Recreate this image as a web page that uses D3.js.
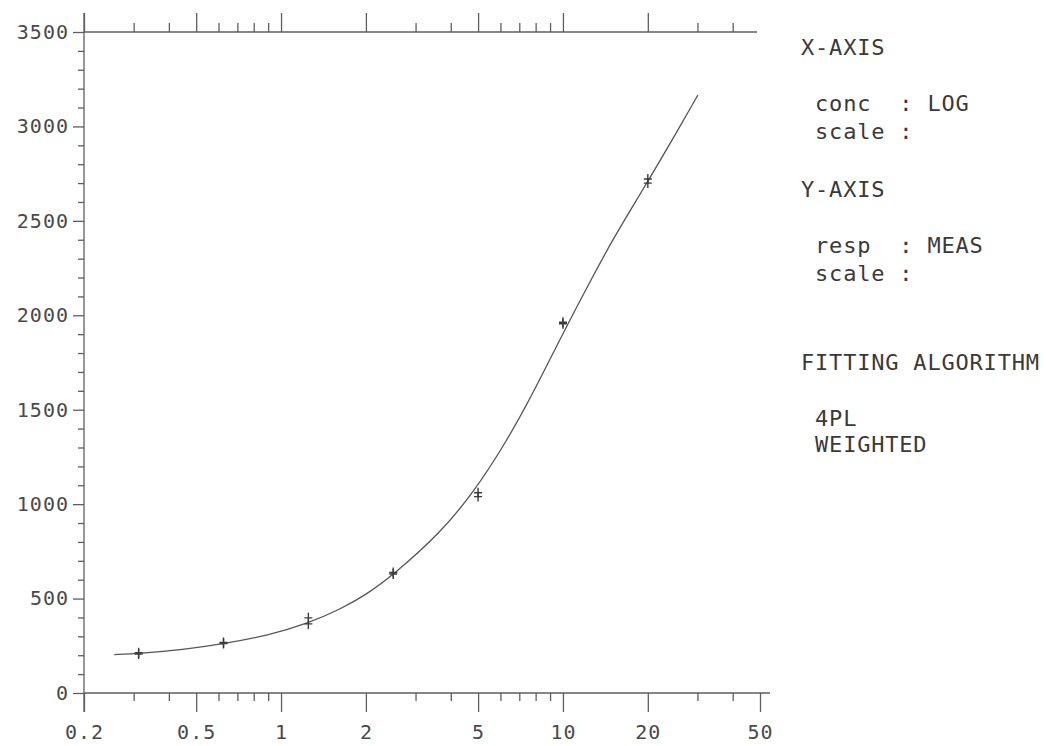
<!DOCTYPE html>
<html>
<head>
<meta charset="utf-8">
<script src="https://cdn.jsdelivr.net/npm/d3@7"></script>
<style>
body{margin:0;background:#fff;}
text{font-family:"DejaVu Sans Mono",monospace;fill:#4a4a4a;}
.os path{display:none}
.os line{stroke:#5e5e5e;stroke-width:1.3}
.panel text{fill:#3a3a3a;font-size:22px;letter-spacing:0.8px;white-space:pre}
</style>
</head>
<body>
<div id="okvir"></div>
<script>
// izmjerene tocke (dva ponavljanja po koncentraciji)
const koncentracije = [0.3125, 0.625, 1.25, 2.5, 5, 10, 20];
const odziv1 = [206, 262, 366, 630, 1040, 1955, 2700];
const odziv2 = [213, 268, 398, 638, 1060, 1963, 2722];

// prilagodena krivulja (4PL) ocitana sa slike
const krivuljaX = [0.256, 0.3125, 0.45, 0.625, 0.9, 1.25, 1.63, 2.0, 2.5, 3.69, 4.83, 6.18, 7.7, 10, 12.6, 15, 17.9, 20, 23.6, 30.1];
const krivuljaY = [203, 209, 229, 260, 305, 370, 445, 520, 625, 850, 1065, 1310, 1565, 1905, 2190, 2400, 2590, 2710, 2890, 3166];

// oznake osi
const xGlavne = [0.2, 0.5, 1, 2, 5, 10, 20, 50];
const xOznake = ["0.2", "0.5", "1", "2", "5", "10", "20", "50"];
const xSporedne = [0.3, 0.4, 0.6, 0.7, 0.8, 0.9, 3, 4, 6, 7, 8, 9, 30, 40];
const yGlavne = [0, 500, 1000, 1500, 2000, 2500, 3000, 3500];

const panelRedovi = ["X-AXIS", " conc  : LOG", " scale :", "Y-AXIS", " resp  : MEAS", " scale :", "FITTING ALGORITHM", " 4PL", " WEIGHTED"];

function crtajGraf(){
    const dimenzije = {sirina: 1046, visina: 746}

    const okvir = d3.select("#okvir")
        .append("svg")
        .attr("width", dimenzije.sirina)
        .attr("height", dimenzije.visina)

    //razmjeri
    const xSkala = d3.scaleLog()
        .domain([0.2, 50])
        .range([84, 760])
    const ySkala = d3.scaleLinear()
        .domain([0, 3500])
        .range([693, 32])

    const yDno = ySkala(0)
    const yVrh = ySkala(3500)
    const xLijevo = xSkala(0.2)

    //linije osi
    const linije = okvir.append("g")
        .attr("stroke", "#5e5e5e")
        .attr("stroke-width", 1.3)
    linije.append("line")
        .attr("x1", xLijevo).attr("x2", xLijevo)
        .attr("y1", yVrh - 19).attr("y2", yDno + 19)
    linije.append("line")
        .attr("x1", xLijevo).attr("x2", xSkala(50) + 10)
        .attr("y1", yDno).attr("y2", yDno)
    linije.append("line")
        .attr("x1", xLijevo).attr("x2", xSkala(50) - 3)
        .attr("y1", yVrh).attr("y2", yVrh)

    //donja os
    const donjaOs = okvir.append("g")
        .attr("class", "os")
        .attr("transform", `translate(0,${yDno})`)
        .call(d3.axisBottom(xSkala)
            .tickValues(xGlavne)
            .tickSize(19)
            .tickSizeOuter(0)
            .tickPadding(13)
            .tickFormat((d, i) => xOznake[i]))
    donjaOs.selectAll("text")
        .style("font-size", "20px")
        .style("letter-spacing", "1px")

    okvir.append("g")
        .attr("class", "os")
        .attr("transform", `translate(0,${yDno})`)
        .call(d3.axisBottom(xSkala)
            .tickValues(xSporedne)
            .tickSize(8)
            .tickSizeOuter(0)
            .tickFormat(""))

    //gornja os
    okvir.append("g")
        .attr("class", "os")
        .attr("transform", `translate(0,${yVrh})`)
        .call(d3.axisTop(xSkala)
            .tickValues(xGlavne.filter(d => d < 50))
            .tickSize(19)
            .tickSizeOuter(0)
            .tickFormat(""))
    okvir.append("g")
        .attr("class", "os")
        .attr("transform", `translate(0,${yVrh})`)
        .call(d3.axisTop(xSkala)
            .tickValues(xSporedne)
            .tickSize(9)
            .tickSizeOuter(0)
            .tickFormat(""))

    //lijeva os
    const lijevaOs = okvir.append("g")
        .attr("class", "os")
        .attr("transform", `translate(${xLijevo},0)`)
        .call(d3.axisLeft(ySkala)
            .tickValues(yGlavne)
            .tickSize(11)
            .tickSizeOuter(0)
            .tickPadding(4)
            .tickFormat(d => d))
    lijevaOs.selectAll("text")
        .style("font-size", "20px")
        .style("letter-spacing", "1px")

    okvir.append("g")
        .attr("class", "os")
        .attr("transform", `translate(${xLijevo},0)`)
        .call(d3.axisLeft(ySkala)
            .tickValues(d3.range(100, 3500, 100).filter(d => d % 500 != 0))
            .tickSize(6)
            .tickSizeOuter(0)
            .tickFormat(""))

    //krivulja
    const tockeKrivulje = krivuljaX.map((k, i) => ({k: k, r: krivuljaY[i]}))
    const linijaGenerator = d3.line()
        .x(d => xSkala(d.k))
        .y(d => ySkala(d.r))
        .curve(d3.curveBasis)

    okvir.append("path")
        .datum(tockeKrivulje)
        .attr("d", linijaGenerator)
        .attr("fill", "none")
        .attr("stroke", "#555")
        .attr("stroke-width", 1.3)

    //mjerenja kao križići
    const mjerenja = []
    koncentracije.forEach((k, i) => {
        mjerenja.push({k: k, r: odziv1[i]})
        mjerenja.push({k: k, r: odziv2[i]})
    })

    okvir.append("g")
        .selectAll("path")
        .data(mjerenja)
        .enter().append("path")
        .attr("transform", d => `translate(${xSkala(d.k)},${ySkala(d.r)})`)
        .attr("d", "M-4,0H4M0,-5V5")
        .attr("stroke", "#3c3c3c")
        .attr("stroke-width", 1.4)
        .attr("fill", "none")

    //tekst desno
    const baze = [55, 111, 139, 197, 253, 281, 370, 426, 452]
    okvir.append("g")
        .attr("class", "panel")
        .selectAll("text")
        .data(panelRedovi)
        .enter().append("text")
        .attr("x", 801)
        .attr("y", (d, i) => baze[i])
        .text(d => d)
}
crtajGraf();
</script>
</body>
</html>
